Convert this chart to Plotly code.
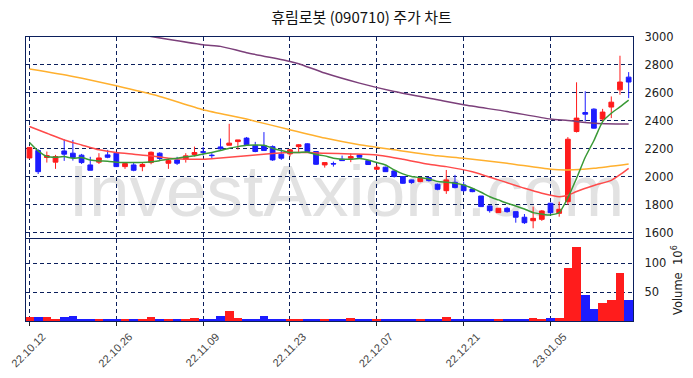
import pandas as pd
import plotly.graph_objects as go

title = "휴림로봇 (090710) 주가 차트"

days = pd.bdate_range("2022-10-12", "2023-01-18")
days = days[days != pd.Timestamp("2022-12-30")]
dates = [d.strftime("%y.%m.%d") for d in days]

tick_labels = ["22.10.12", "22.10.26", "22.11.09", "22.11.23", "22.12.07", "22.12.21", "23.01.05"]

opens = [2135, 2188, 2138, 2105, 2185, 2169, 2155, 2085, 2105, 2157,
         2169, 2073, 2085, 2073, 2102, 2169, 2097, 2121, 2126, 2160,
         2180, 2155, 2214, 2226, 2252, 2277, 2224, 2224, 2216, 2162,
         2164, 2216, 2236, 2181, 2085, 2095, 2126, 2133, 2157, 2116,
         2054, 2069, 2042, 2002, 1978, 1966, 1994, 1947, 1901, 1961,
         1942, 1913, 1863, 1792, 1744, 1775, 1751, 1711, 1686, 1696,
         1811, 1739, 1822, 2324, 2460, 2484, 2413, 2499, 2622, 2713]
highs = [2215, 2198, 2181, 2157, 2269, 2264, 2164, 2143, 2169, 2193,
         2176, 2105, 2100, 2102, 2181, 2176, 2133, 2143, 2169, 2216,
         2214, 2169, 2274, 2379, 2264, 2285, 2250, 2320, 2225, 2200,
         2200, 2234, 2240, 2181, 2102, 2109, 2152, 2169, 2162, 2118,
         2085, 2073, 2049, 2004, 1980, 2000, 1999, 1952, 2049, 2014,
         1966, 1918, 1863, 1795, 1775, 1785, 1751, 1734, 1787, 1763,
         1815, 1822, 2284, 2676, 2612, 2490, 2486, 2575, 2866, 2749]
lows = [2130, 2020, 2102, 2057, 2114, 2116, 2092, 2047, 2092, 2133,
        2073, 2057, 2040, 2040, 2090, 2116, 2057, 2085, 2102, 2145,
        2152, 2131, 2193, 2226, 2195, 2222, 2176, 2188, 2114, 2121,
        2145, 2176, 2181, 2085, 2066, 2073, 2114, 2105, 2138, 2085,
        2050, 2035, 1995, 1950, 1950, 1961, 1966, 1904, 1878, 1918,
        1894, 1890, 1785, 1744, 1744, 1744, 1672, 1663, 1632, 1685,
        1735, 1715, 1800, 2317, 2396, 2345, 2396, 2420, 2587, 2563]
closes = [2210, 2037, 2152, 2145, 2162, 2138, 2102, 2047, 2135, 2140,
          2073, 2095, 2047, 2088, 2176, 2131, 2116, 2097, 2150, 2174,
          2176, 2152, 2200, 2241, 2264, 2229, 2181, 2188, 2121, 2133,
          2193, 2229, 2181, 2090, 2102, 2092, 2116, 2145, 2140, 2088,
          2069, 2037, 2002, 1954, 1959, 1990, 1973, 1911, 1978, 1923,
          1901, 1894, 1787, 1758, 1775, 1751, 1711, 1672, 1703, 1756,
          1744, 1768, 2269, 2420, 2448, 2348, 2463, 2534, 2678, 2678]

# volume in millions of shares
volumes = [5.7, 5.7, 5.7, 3.4, 5.7, 7.5, 3.4, 3.4, 3.4, 3.4,
           3.4, 1.7, 3.4, 3.4, 6.9, 3.4, 3.4, 3.4, 3.4, 5.0,
           3.4, 3.4, 8.6, 16.0, 5.0, 3.4, 3.4, 8.6, 3.4, 3.4,
           3.4, 3.4, 3.4, 3.4, 1.7, 3.4, 3.4, 5.0, 3.4, 1.7,
           1.7, 1.7, 3.4, 3.4, 1.7, 1.7, 1.7, 1.7, 7.0, 1.7,
           1.7, 3.4, 1.7, 1.7, 1.7, 1.7, 1.7, 1.7, 5.0, 3.4,
           5.0, 5.0, 91, 128, 45, 21, 31, 35, 83, 35]

ma5 = [2246, 2185, 2145, 2140, 2145, 2133, 2138, 2121, 2114, 2112,
       2105, 2102, 2102, 2102, 2107, 2116, 2126, 2133, 2143, 2150,
       2164, 2174, 2188, 2205, 2216, 2225, 2228, 2226, 2205, 2188,
       2174, 2174, 2178, 2159, 2150, 2133, 2126, 2126, 2131, 2121,
       2102, 2085, 2050, 2021, 2002, 1994, 1985, 1966, 1961, 1954,
       1942, 1918, 1890, 1858, 1835, 1811, 1792, 1770, 1744, 1734,
       1727, 1744, 1850, 1990, 2140, 2260, 2395, 2455, 2500, 2548]

ma20_idx = [0, 2, 4, 6, 8, 10, 12, 14, 16, 18, 20, 22, 24, 26, 30, 32, 34, 37, 40,
            43, 46, 48, 51, 54, 57, 59, 61, 62, 63, 65, 67, 68, 69]
ma20_val = [2360, 2312, 2264, 2228, 2193, 2174, 2162, 2150, 2133, 2126, 2126, 2135, 2145,
            2157, 2174, 2174, 2169, 2164, 2157, 2126, 2090, 2073, 2037, 1978, 1918,
            1883, 1858, 1868, 1895, 1938, 1975, 2015, 2061]

ma60_idx = [0, 5, 10, 15, 20, 25, 30, 34, 38, 42, 47, 50, 55, 60, 62, 65, 69]
ma60_val = [2771, 2718, 2651, 2575, 2480, 2413, 2336, 2277, 2229, 2193, 2150, 2133,
            2097, 2054, 2049, 2061, 2092]

ma120_idx = [12, 14, 20, 22, 25, 30, 31, 34, 38, 42, 47, 50, 55, 60, 62, 65, 69]
ma120_val = [3025, 3004, 2945, 2933, 2888, 2825, 2809, 2742, 2670, 2610, 2551, 2515,
             2467, 2413, 2403, 2384, 2377]

UP = "#ff1c1c"
DOWN = "#1c1cff"
NAVY = "#0b1f5c"

fig = go.Figure()

fig.add_trace(go.Candlestick(
    x=dates, open=opens, high=highs, low=lows, close=closes,
    increasing=dict(line=dict(color=UP, width=1), fillcolor=UP),
    decreasing=dict(line=dict(color=DOWN, width=1), fillcolor=DOWN),
    whiskerwidth=0, xaxis="x", yaxis="y", showlegend=False, hoverinfo="skip"))

fig.add_trace(go.Scatter(x=[dates[i] for i in ma120_idx], y=ma120_val, mode="lines",
                         line=dict(color="#7b3f7a", width=1.5, shape="spline", smoothing=0.6),
                         xaxis="x", yaxis="y", showlegend=False, hoverinfo="skip"))
fig.add_trace(go.Scatter(x=[dates[i] for i in ma60_idx], y=ma60_val, mode="lines",
                         line=dict(color="#ffb02e", width=1.5, shape="spline", smoothing=0.6),
                         xaxis="x", yaxis="y", showlegend=False, hoverinfo="skip"))
fig.add_trace(go.Scatter(x=[dates[i] for i in ma20_idx], y=ma20_val, mode="lines",
                         line=dict(color="#ff4a4a", width=1.5, shape="spline", smoothing=0.6),
                         xaxis="x", yaxis="y", showlegend=False, hoverinfo="skip"))
fig.add_trace(go.Scatter(x=dates, y=ma5, mode="lines",
                         line=dict(color="#3a9a36", width=1.5, shape="spline", smoothing=0.5),
                         xaxis="x", yaxis="y", showlegend=False, hoverinfo="skip"))

vol_colors = [UP if c >= o else DOWN for o, c in zip(opens, closes)]
fig.add_trace(go.Bar(x=dates, y=volumes, marker=dict(color=vol_colors, line=dict(width=0)),
                     xaxis="x2", yaxis="y2", showlegend=False, hoverinfo="skip"))

grid = dict(showgrid=True, gridcolor=NAVY, gridwidth=1, griddash="4px,3px",
            showline=True, linecolor=NAVY, linewidth=1.2, mirror=True, zeroline=False,
            automargin=False)

# the page body has an 8px default margin, so the figure is sized to fit inside it
fig.update_layout(
    width=685, height=370,
    margin=dict(l=18, r=60, t=29, b=57, autoexpand=False),
    paper_bgcolor="white", plot_bgcolor="white",
    bargap=0, boxgap=0.22,
    title=dict(text=title, x=0.516, y=0.973, xanchor="center", yanchor="middle",
               xref="container", yref="container",
               font=dict(family="Noto Sans CJK KR", size=15, color="#111111")),
    xaxis=dict(type="category", range=[-0.4, 69.5], domain=[0, 1], anchor="y",
               tickvals=tick_labels, showticklabels=False, ticks="",
               rangeslider=dict(visible=False), **grid),
    yaxis=dict(domain=[0.291, 1], range=[1560, 3000], side="right", anchor="x",
               tickvals=[1600, 1800, 2000, 2200, 2400, 2600, 2800, 3000],
               ticks="outside", ticklen=8, tickcolor="rgba(0,0,0,0)",
               tickfont=dict(family="DejaVu Sans", size=11.5, color="#222222"), **grid),
    xaxis2=dict(type="category", range=[-0.4, 69.5], domain=[0, 1], anchor="y2",
                matches="x", tickvals=tick_labels, ticktext=tick_labels, tickangle=-45,
                ticks="outside", ticklen=4, tickcolor="#222222", ticklabelshift=13,
                tickfont=dict(family="Liberation Sans", size=11, color="#444444"), **grid),
    yaxis2=dict(domain=[0, 0.2877], range=[0, 141], side="right", anchor="x2",
                tickvals=[50, 100], ticks="outside", ticklen=8, tickcolor="rgba(0,0,0,0)",
                tickfont=dict(family="DejaVu Sans", size=11.5, color="#222222"),
                title=dict(text="Volume  10<sup>6</sup>", standoff=8,
                           font=dict(family="DejaVu Sans", size=11.5, color="#222222")),
                **grid),
    shapes=[dict(type="rect", xref="paper", yref="paper", x0=0.228, x1=0.828,
                 y0=0.383, y1=0.583, line=dict(width=0), fillcolor="rgba(0,0,0,0)",
                 layer="below",
                 label=dict(text="InvestAxiom.com", textposition="middle center",
                            font=dict(family="Liberation Sans", size=73, color="#e2e2e2")))],
)

fig.write_html("out.html")
